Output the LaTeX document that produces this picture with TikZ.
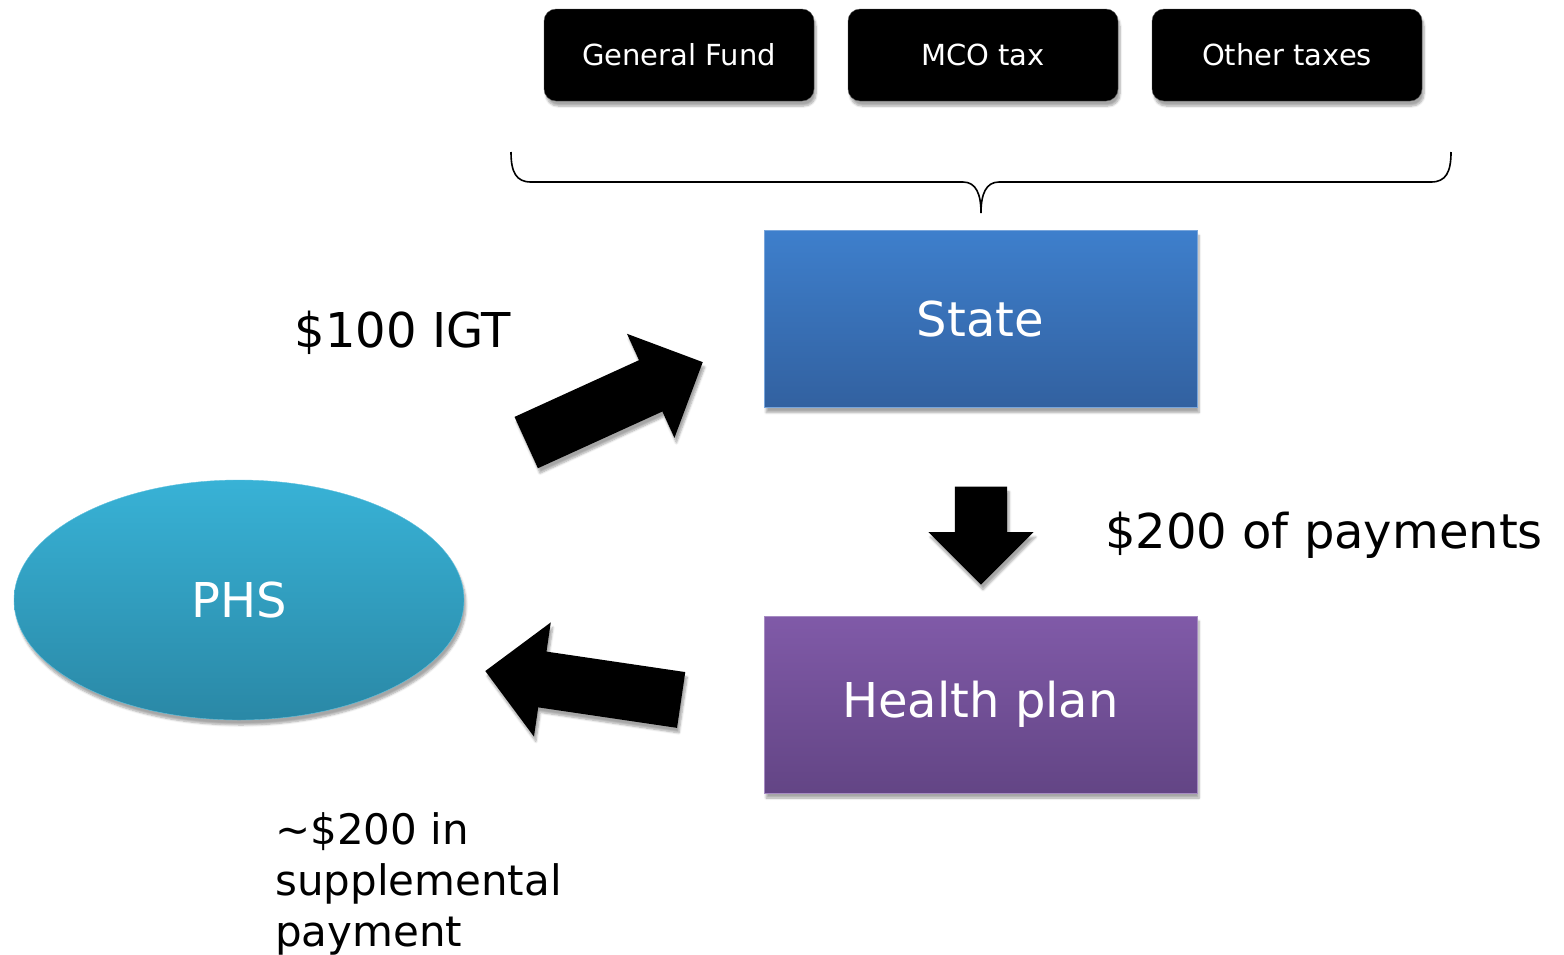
\documentclass[tikz,border=0pt]{standalone}
\usepackage{fontspec}
\setmainfont{DejaVu Sans}
\usepackage{tikz}
\usetikzlibrary{shapes.geometric,shapes.arrows,shadows.blur}
\definecolor{fsbluetop}{RGB}{62,127,204}
\definecolor{fsbluebot}{RGB}{50,97,160}
\definecolor{fspurpletop}{RGB}{128,90,168}
\definecolor{fspurplebot}{RGB}{99,69,133}
\definecolor{fstealtop}{RGB}{56,178,214}
\definecolor{fstealbot}{RGB}{42,136,166}
\tikzset{
    softshadow/.style={
        blur shadow={shadow xshift=2pt,shadow yshift=-5pt,
        shadow blur steps=6,shadow opacity=35}
    },
    fundbox/.style={
        draw=black!65,fill=black,rounded corners=12pt,
        minimum width=270pt,minimum height=92pt,
        text=white,font=\fontsize{29}{34}\selectfont,softshadow
    },
    payer/.style 2 args={
        draw=#1!70!white,top color=#1,bottom color=#2,
        minimum width=433pt,minimum height=177pt,
        text=white,font=\fontsize{48}{58}\selectfont,softshadow
    },
    bigarrow/.style={
        single arrow,fill=black,inner xsep=0pt,
        single arrow tip angle=90,softshadow
    },
    money/.style={
        font=\fontsize{48}{58}\selectfont,text=black,inner sep=0pt
    }
}

\begin{document}
\begin{tikzpicture}[x=1pt,y=-1pt]
\useasboundingbox (0,0) rectangle (1564,954);

% funding sources
\node[fundbox] (gf) at (679,55) {General Fund};
\node[fundbox] (mco) at (983,55) {MCO tax};
\node[fundbox] (oth) at (1287,55) {Other taxes};

% brace gathering the sources
\draw[line width=1.6pt]
(511,152) .. controls (511,172) and (516,182) .. (531,182)
-- (963,182) .. controls (976,182) and (981,194) .. (981,213)
.. controls (981,194) and (986,182) .. (999,182)
-- (1431,182) .. controls (1446,182) and (1451,172) .. (1451,152);

\node[payer={fsbluetop}{fsbluebot}] (state) at (980.5,319) {State};
\node[payer={fspurpletop}{fspurplebot}] (plan) at (980.5,704.5) {Health plan};

\node[
ellipse,draw=fstealtop!80!white,top color=fstealtop,bottom color=fstealbot,
minimum width=450pt,minimum height=240pt,inner sep=0pt,
text=white,font=\fontsize{48}{58}\selectfont,softshadow
] (phs) at (239,600) {PHS};

% money flows
\node[bigarrow,inner ysep=28pt,single arrow head extend=29pt,
minimum height=194pt,anchor=tip,rotate=24.5] (igt) at (703,362) {};
\node[bigarrow,inner ysep=26pt,single arrow head extend=26.5pt,
minimum height=98pt,anchor=tip,rotate=-90] (pay) at (981,585) {};
\node[bigarrow,inner ysep=28pt,single arrow head extend=29.5pt,
minimum height=198pt,anchor=tip,rotate=171.6] (supp) at (485,671) {};

\node[money] (igtlbl) at (403,333) {\$100 IGT};
\node[money,anchor=base west] (paylbl) at (1105,548) {\$200 of payments};
\node[
money,font=\fontsize{42}{51}\selectfont,align=left,anchor=north west
] (supplbl) at (275,812)
{\textasciitilde\$200 in\\supplemental\\payment};

\end{tikzpicture}
\end{document}
